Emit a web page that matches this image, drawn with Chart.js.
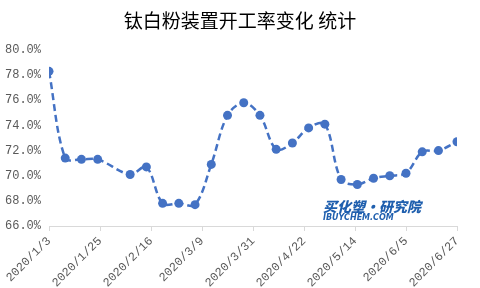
<!DOCTYPE html>
<html>
<head>
<meta charset="utf-8">
<script src="https://cdn.jsdelivr.net/npm/chart.js@4"></script>
<style>
  html, body { margin: 0; padding: 0; background: #fff; }
  #wrap { position: relative; width: 480px; height: 288px; }
  #mark { position: absolute; left: 323px; top: 199px; font-family: 'Noto Sans CJK SC', sans-serif;
          color: #1f5fae; font-style: italic; font-weight: 900; line-height: 1; }
  #mark .cn { font-size: 14px; }
  #mark .en { font-size: 8px; font-family: 'DejaVu Sans', sans-serif; margin-top: 1px; }
</style>
</head>
<body>
<div id="wrap">
  <canvas id="chart-rate" width="480" height="288"></canvas>
  <div id="mark"><div class="cn">买化塑·研究院</div><div class="en">IBUYCHEM.COM</div></div>
</div>
<script>
// weekly operating rate (%)
const dates = [
    '2020/1/3', '2020/1/10', '2020/1/17', '2020/1/24', '2020/2/7', '2020/2/14',
    '2020/2/21', '2020/2/28', '2020/3/6', '2020/3/13', '2020/3/20', '2020/3/27',
    '2020/4/3', '2020/4/10', '2020/4/17', '2020/4/24', '2020/5/1', '2020/5/8',
    '2020/5/15', '2020/5/22', '2020/5/29', '2020/6/5', '2020/6/12', '2020/6/19', '2020/6/27'
];
const rates = [
    78.3, 71.4, 71.3, 71.3, 70.1, 70.7,
    67.8, 67.8, 67.7, 70.9, 74.8, 75.8,
    74.8, 72.1, 72.6, 73.8, 74.1, 69.7,
    69.3, 69.8, 70.0, 70.2, 71.9, 72.0, 72.7
];
const xTickLabels = [
    '2020/1/3', '2020/1/25', '2020/2/16', '2020/3/9', '2020/3/31',
    '2020/4/22', '2020/5/14', '2020/6/5', '2020/6/27'
];
const chartTitle = '钛白粉装置开工率变化 统计';

function dayOf(s) {
    const p = s.split('/').map(Number);
    return Date.UTC(p[0], p[1] - 1, p[2]) / 86400000;
}
const day0 = dayOf(dates[0]);
const tickDays = xTickLabels.map(s => dayOf(s) - day0);

// title centred on the whole canvas (the built-in one centres inside the padding)
const titlePlugin = {
    id: 'canvasTitle',
    afterDraw(chart) {
        const ctx = chart.ctx;
        ctx.save();
        ctx.font = "19px 'Noto Sans CJK SC', sans-serif";
        ctx.fillStyle = '#000';
        ctx.textAlign = 'center';
        ctx.textBaseline = 'middle';
        ctx.fillText(chartTitle, chart.width / 2, 21);
        ctx.restore();
    }
};

new Chart(document.getElementById('chart-rate'), {
    type: 'line',
    data: {
        datasets: [{
            data: dates.map((d, i) => ({ x: dayOf(d) - day0, y: rates[i] })),
            borderColor: '#4472c4',
            backgroundColor: '#4472c4',
            borderWidth: 2.5,
            borderDash: [7, 4],
            pointRadius: 4.5,
            pointBorderWidth: 0,
            tension: 0.35
        }]
    },
    plugins: [titlePlugin],
    options: {
        responsive: false,
        animation: false,
        layout: { padding: { left: 0, right: 23, top: 50, bottom: 0 } },
        plugins: {
            legend: { display: false },
            tooltip: { enabled: false },
            title: { display: false }
        },
        scales: {
            x: {
                type: 'linear',
                min: tickDays[0],
                max: tickDays[tickDays.length - 1],
                afterBuildTicks: s => { s.ticks = tickDays.map(v => ({ value: v })); },
                afterFit: s => { s.height = 62; },
                grid: { drawOnChartArea: false, drawTicks: true, tickLength: 5, color: '#d9d9d9' },
                border: { display: true, color: '#d9d9d9' },
                ticks: {
                    autoSkip: false,
                    maxRotation: 45,
                    minRotation: 45,
                    color: '#595959',
                    font: { family: "'Liberation Mono', monospace", size: 12 },
                    callback: v => xTickLabels[tickDays.indexOf(v)]
                }
            },
            y: {
                min: 66,
                max: 80,
                afterFit: s => { s.width = 49; },
                grid: { display: false, drawTicks: false },
                border: { display: false },
                ticks: {
                    stepSize: 2,
                    padding: 8,
                    color: '#595959',
                    font: { family: "'Liberation Mono', monospace", size: 12 },
                    callback: v => v.toFixed(1) + '%'
                }
            }
        }
    }
});
</script>
</body>
</html>
